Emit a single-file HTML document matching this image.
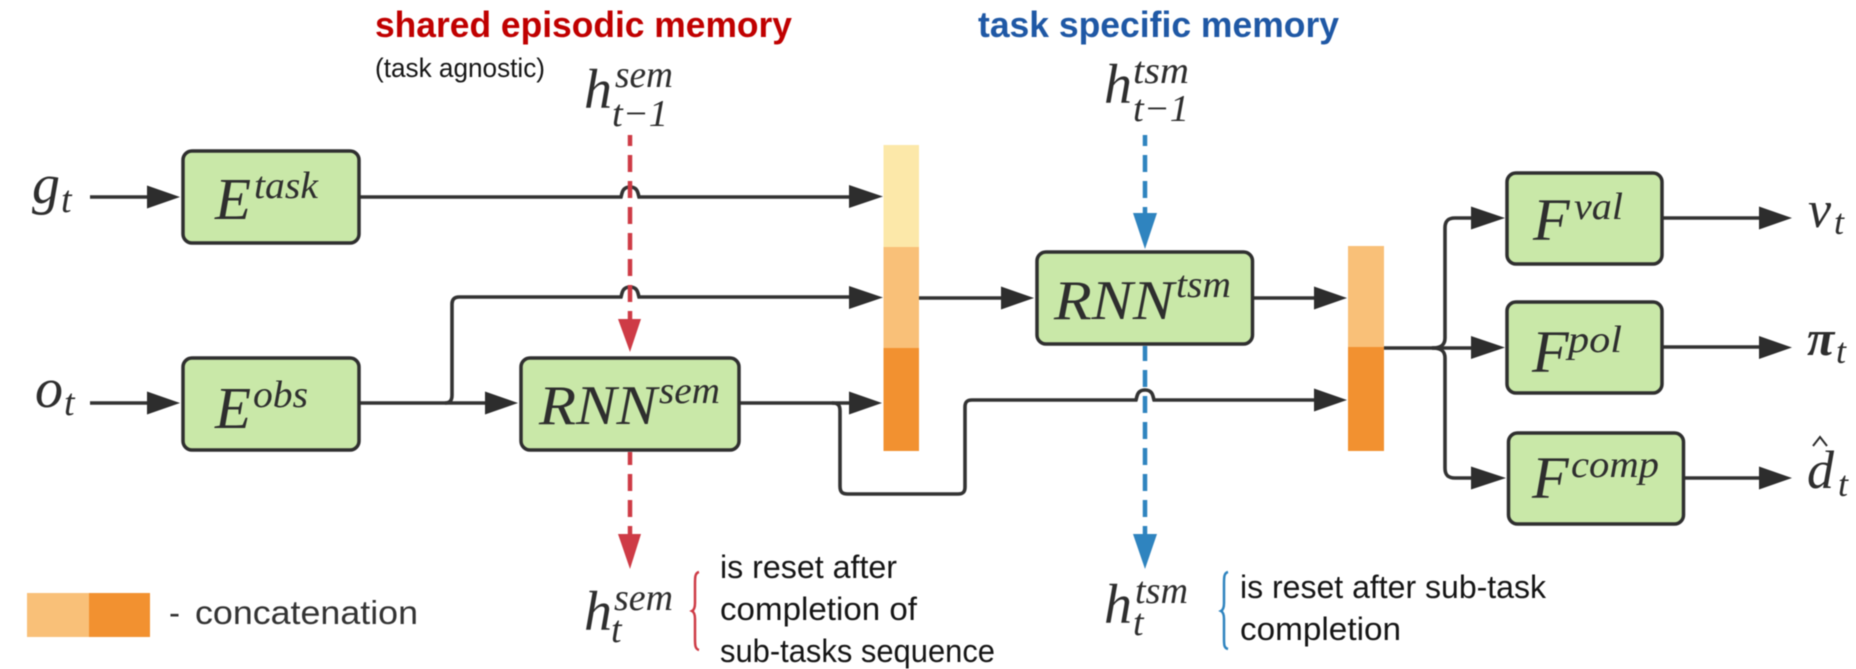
<!DOCTYPE html>
<html><head><meta charset="utf-8"><style>
html,body{margin:0;padding:0;background:#fff;width:1856px;height:669px;overflow:hidden}
svg{display:block;filter:blur(.4px)}
.m{font-family:"Liberation Serif",serif;font-style:italic;fill:#2e2e2e}
.c{font-family:"Liberation Sans",sans-serif;fill:#151515}
.b{fill:#c9e8a8;stroke:#2f2f2f;stroke-width:3.5}
.l{fill:none;stroke:#333;stroke-width:3.6}
.a{fill:#2d2d2d}
</style></head><body>
<svg width="1856" height="669" viewBox="0 0 1856 669" xmlns="http://www.w3.org/2000/svg">
<rect width="1856" height="669" fill="#fff"/>

<!-- concat bars -->
<rect x="883.5" y="145" width="35.5" height="102" fill="#fce8a9"/>
<rect x="883.5" y="247" width="35.5" height="101" fill="#f9c078"/>
<rect x="883.5" y="348" width="35.5" height="103" fill="#f29130"/>
<rect x="1348" y="246" width="36" height="101" fill="#f9c078"/>
<rect x="1348" y="347" width="36" height="104" fill="#f29130"/>
<rect x="27" y="593" width="62" height="44" fill="#f9c078"/>
<rect x="89" y="593" width="61" height="44" fill="#f29130"/>

<!-- connectors -->
<g class="l">
<path d="M90 197H148"/>
<path d="M359 197H621C622 194 622 187 630 187S638 194 639 197H852"/>
<path d="M359 403H488"/>
<path d="M445 403C451 403 452 399 452 395V304C452 299 455 297 459 297H621C622 294 622 287 630 287S638 294 639 297H852"/>
<path d="M90 403H150"/>
<path d="M739 403H853"/>
<path d="M832 403C838 403 840 405 840 411V486C840 492 842 494 848 494H958C963 494 965 492 965 487V407C965 402 967 400 972 400H1136C1137 397 1137 390 1145 390S1153 397 1154 400H1317"/>
<path d="M919 298H1004"/>
<path d="M1253 298H1317"/>
<path d="M1384 348H1475"/>
<path d="M1432 348C1441 348 1445 345 1445 338V228C1445 221 1448 218 1455 218H1475"/>
<path d="M1432 348C1441 348 1445 351 1445 358V468C1445 475 1448 478 1455 478H1475"/>
<path d="M1662 218H1762M1662 347H1762M1684 478H1762"/>
</g>

<!-- black arrowheads -->
<g class="a">
<path d="M147 185.500L180 197L147 208.500Z"/>
<path d="M147 391.500L180 403L147 414.500Z"/>
<path d="M485 391.500L518 403L485 414.500Z"/>
<path d="M849 391.500L882 403L849 414.500Z"/>
<path d="M849 185L883 196.500L849 208Z"/>
<path d="M849 286L883 297.500L849 309Z"/>
<path d="M1001 286.500L1034 298L1001 309.500Z"/>
<path d="M1314 286.500L1347 298L1314 309.500Z"/>
<path d="M1314 388.500L1347 400L1314 411.500Z"/>
<path d="M1471 206.500L1505 218L1471 229.500Z"/>
<path d="M1471 336L1505 347.500L1471 359Z"/>
<path d="M1471 466.500L1506 478L1471 489.500Z"/>
<path d="M1759 206.500L1792 218L1759 229.500Z"/>
<path d="M1759 336L1792 347.500L1759 359Z"/>
<path d="M1759 466.500L1792 478L1759 489.500Z"/>
</g>

<!-- boxes -->
<rect class="b" x="183" y="151" width="176" height="92" rx="9"/>
<rect class="b" x="183" y="358" width="176" height="92" rx="9"/>
<rect class="b" x="521" y="358" width="218" height="92" rx="9"/>
<rect class="b" x="1037" y="252" width="215.500" height="92" rx="9"/>
<rect class="b" x="1507" y="173" width="155" height="91" rx="9"/>
<rect class="b" x="1507" y="302" width="155" height="91" rx="9"/>
<rect class="b" x="1508.500" y="433" width="175" height="91" rx="9"/>

<!-- dashed -->
<g fill="none" stroke-width="4.5">
<path d="M630 135V325" stroke="#ce3b46" stroke-dasharray="17 9" stroke-dashoffset="6"/>
<path d="M630 452V540" stroke="#ce3b46" stroke-dasharray="17 9" stroke-dashoffset="4"/>
<path d="M1145 135V220" stroke="#2f84bf" stroke-dasharray="17 9" stroke-dashoffset="6"/>
<path d="M1145 346V540" stroke="#2f84bf" stroke-dasharray="17 9" stroke-dashoffset="2"/>
</g>
<path d="M618 319H641L630 352Z" fill="#ce3b46"/>
<path d="M618 534H641L630 569Z" fill="#ce3b46"/>
<path d="M1133 213H1157L1145 249Z" fill="#2f84bf"/>
<path d="M1133 534H1157L1145 569Z" fill="#2f84bf"/>

<!-- braces -->
<path d="M699 572C695 573 695 577 695 584V603C695 608 694 610 692 611C694 612 695 614 695 619V638C695 645 695 649 699 650" fill="none" stroke="#ce3b46" stroke-width="2.5"/>
<path d="M1228 572C1224 573 1224 577 1224 584V603C1224 608 1223 610 1221 611C1223 612 1224 614 1224 619V638C1224 645 1224 648 1228 649" fill="none" stroke="#2f84bf" stroke-width="2.5"/>

<!-- titles -->
<text class="c" x="375" y="37" font-size="36" font-weight="700" style="fill:#c00000" textLength="417" lengthAdjust="spacingAndGlyphs">shared episodic memory</text>
<text class="c" x="978" y="37" font-size="36" font-weight="700" style="fill:#1f58a5" textLength="361" lengthAdjust="spacingAndGlyphs">task specific memory</text>
<text class="c" x="375" y="77" font-size="27" textLength="170" lengthAdjust="spacingAndGlyphs">(task agnostic)</text>

<!-- math top -->
<text class="m" x="584" y="108" font-size="56">h</text>
<text class="m" x="615" y="87" font-size="38" textLength="58" lengthAdjust="spacingAndGlyphs">sem</text>
<text class="m" x="612" y="126" font-size="38" textLength="56" lengthAdjust="spacingAndGlyphs">t−1</text>
<text class="m" x="1104" y="103" font-size="56">h</text>
<text class="m" x="1133" y="83" font-size="38" textLength="56" lengthAdjust="spacingAndGlyphs">tsm</text>
<text class="m" x="1133" y="121" font-size="38" textLength="56" lengthAdjust="spacingAndGlyphs">t−1</text>

<!-- inputs -->
<text class="m" x="32" y="203" font-size="56">g</text>
<text class="m" x="61" y="212" font-size="38">t</text>
<text class="m" x="35" y="407" font-size="56">o</text>
<text class="m" x="64" y="415" font-size="38">t</text>

<!-- box labels -->
<text class="m" x="215" y="219" font-size="59">E</text>
<text class="m" x="254" y="198" font-size="38" textLength="64" lengthAdjust="spacingAndGlyphs">task</text>
<text class="m" x="215" y="428" font-size="59">E</text>
<text class="m" x="253" y="407" font-size="38" textLength="55" lengthAdjust="spacingAndGlyphs">obs</text>
<text class="m" x="539" y="424" font-size="56" textLength="118" lengthAdjust="spacingAndGlyphs">RNN</text>
<text class="m" x="659" y="403" font-size="38" textLength="61" lengthAdjust="spacingAndGlyphs">sem</text>
<text class="m" x="1054" y="319" font-size="56" textLength="120" lengthAdjust="spacingAndGlyphs">RNN</text>
<text class="m" x="1176" y="297" font-size="38" textLength="55" lengthAdjust="spacingAndGlyphs">tsm</text>
<text class="m" x="1533" y="240" font-size="60">F</text>
<text class="m" x="1574" y="219" font-size="38" textLength="49" lengthAdjust="spacingAndGlyphs">val</text>
<text class="m" x="1532" y="372" font-size="60">F</text>
<text class="m" x="1568" y="352" font-size="38" textLength="54" lengthAdjust="spacingAndGlyphs">pol</text>
<text class="m" x="1532" y="498" font-size="60">F</text>
<text class="m" x="1571" y="477" font-size="38" textLength="88" lengthAdjust="spacingAndGlyphs">comp</text>

<!-- outputs -->
<text class="m" x="1808" y="227" font-size="52">v</text>
<text class="m" x="1834" y="234" font-size="36">t</text>
<text class="m" x="1807" y="355" font-size="50" font-weight="700">π</text>
<text class="m" x="1836" y="363" font-size="36">t</text>
<text class="m" x="1807" y="488" font-size="54">d</text>
<text class="m" x="1838" y="496" font-size="36">t</text>
<path d="M1813 446L1820 437L1827 446" fill="none" stroke="#2e2e2e" stroke-width="2"/>

<!-- math bottom -->
<text class="m" x="584" y="630" font-size="56">h</text>
<text class="m" x="614" y="610" font-size="38" textLength="59" lengthAdjust="spacingAndGlyphs">sem</text>
<text class="m" x="611" y="642" font-size="38">t</text>
<text class="m" x="1104" y="623" font-size="56">h</text>
<text class="m" x="1135" y="603" font-size="38" textLength="53" lengthAdjust="spacingAndGlyphs">tsm</text>
<text class="m" x="1133" y="635" font-size="38">t</text>

<!-- notes -->
<text class="c" x="720" y="578" font-size="32" textLength="177" lengthAdjust="spacingAndGlyphs">is reset after</text>
<text class="c" x="720" y="620" font-size="32" textLength="197" lengthAdjust="spacingAndGlyphs">completion of</text>
<text class="c" x="720" y="662" font-size="32" textLength="275" lengthAdjust="spacingAndGlyphs">sub-tasks sequence</text>
<text class="c" x="1240" y="598" font-size="32" textLength="306" lengthAdjust="spacingAndGlyphs">is reset after sub-task</text>
<text class="c" x="1240" y="640" font-size="32" textLength="161" lengthAdjust="spacingAndGlyphs">completion</text>
<text class="c" x="169" y="624" font-size="33" style="fill:#333">-</text>
<text class="c" x="195" y="624" font-size="33" style="fill:#333" textLength="223" lengthAdjust="spacingAndGlyphs">concatenation</text>
</svg>
</body></html>
